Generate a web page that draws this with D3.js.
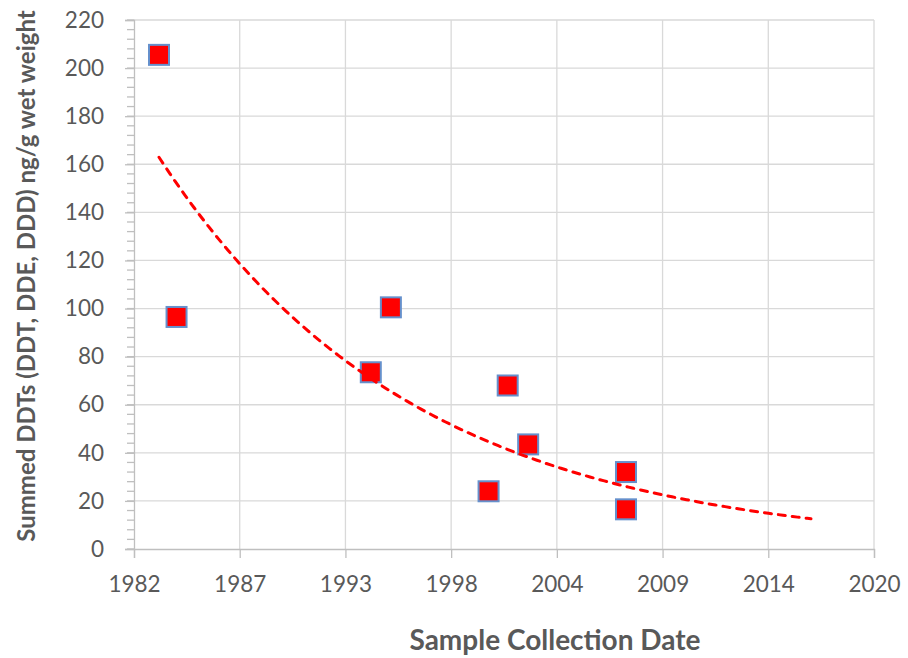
<!DOCTYPE html>
<html>
<head>
<meta charset="utf-8">
<script src="https://cdn.jsdelivr.net/npm/d3@7"></script>
<style>
  body { margin: 0; background: #fff; }
  svg { display: block; }
  text { font-family: Lato, "Open Sans", sans-serif; fill: #595959; }
</style>
</head>
<body>
<svg id="chart"></svg>
<script>
 // sample dates and summed DDT values (ng/g wet weight)
 let sample_dates = ["1983-06-06","1984-05-03","1994-05-26","1995-06-10","2000-07-01",
                     "2001-06-28","2002-07-20","2007-08-14","2007-08-14"]
 let ddt_values = [205.5, 96.5, 73.5, 100.5, 24, 68, 43.5, 32, 16.5]

 // excel date axis: 2000 day major unit
 let x_tick_dates = ["1982-02-18","1987-08-11","1993-01-31","1998-07-24",
                     "2004-01-14","2009-07-06","2014-12-27","2020-06-18"]
 let y_ticks = [0, 20, 40, 60, 80, 100, 120, 140, 160, 180, 200, 220]
 let y_minor_ticks = d3.range(0, 221, 4)

 let trend_forward_days = 3500

 width = 908
 height = 658
 let margin = {top: 20, right: 34, bottom: 109, left: 134}

 let parse = d3.utcParse("%Y-%m-%d")
 let points = sample_dates.map((d, i) => ({date: parse(d), value: ddt_values[i]}))
 let xticks = x_tick_dates.map(parse)

 var svg = d3.select("#chart").attr("width", width).attr("height", height)

 var x = d3.scaleUtc()
     .domain([xticks[0], xticks[xticks.length - 1]])
     .range([margin.left, width - margin.right])
 var y = d3.scaleLinear()
     .domain([0, 220])
     .range([height - margin.bottom, margin.top])

 //gridlines
 svg.append("g").selectAll("line")
     .data(y_ticks.slice(1))
     .enter().append("line")
         .attr("x1", margin.left).attr("x2", width - margin.right)
         .attr("y1", d => y(d)).attr("y2", d => y(d))
         .attr("stroke", "#d9d9d9").attr("stroke-width", 1.3)
 svg.append("g").selectAll("line")
     .data(xticks.slice(1))
     .enter().append("line")
         .attr("x1", d => x(d)).attr("x2", d => x(d))
         .attr("y1", margin.top).attr("y2", height - margin.bottom)
         .attr("stroke", "#d9d9d9").attr("stroke-width", 1.3)

 //y axis minor ticks
 svg.append("g").selectAll("line")
     .data(y_minor_ticks)
     .enter().append("line")
         .attr("x1", margin.left - 7).attr("x2", margin.left)
         .attr("y1", d => y(d)).attr("y2", d => y(d))
         .attr("stroke", "#bfbfbf").attr("stroke-width", 1.3)

 var yAxis = svg.append("g")
     .attr("transform", `translate(${margin.left},0)`)
     .call(d3.axisLeft(y).tickValues(y_ticks).tickSize(9).tickPadding(21))
 var xAxis = svg.append("g")
     .attr("transform", `translate(0,${height - margin.bottom})`)
     .call(d3.axisBottom(x).tickValues(xticks).tickSize(9).tickPadding(18)
         .tickFormat(d3.utcFormat("%Y")))

 for (const ax of [xAxis, yAxis]) {
     ax.select(".domain").attr("stroke", "#bfbfbf").attr("stroke-width", 1.3)
     ax.selectAll(".tick line").attr("stroke", "#bfbfbf").attr("stroke-width", 1.3)
     ax.selectAll(".tick text")
         .attr("font-family", "Lato, 'Open Sans', sans-serif")
         .attr("font-size", 22.5).attr("fill", "#595959")
 }

 //exponential trendline (least squares on ln y, like excel)
 let tx = points.map(p => +p.date), ly = points.map(p => Math.log(p.value))
 let mx = d3.mean(tx), my = d3.mean(ly)
 let slope = d3.sum(tx, (t, i) => (t - mx) * (ly[i] - my)) / d3.sum(tx, t => (t - mx) ** 2)
 let icpt = my - slope * mx
 let t0 = d3.min(points, p => p.date)
 let t1 = d3.timeDay.offset(d3.max(points, p => p.date), trend_forward_days)
 let trend = x.copy().domain([t0, t1]).ticks(120).concat([t1])
     .map(d => ({date: d, value: Math.exp(icpt + slope * (+d))}))
 trend.unshift({date: t0, value: Math.exp(icpt + slope * (+t0))})

 //markers
 svg.append("g")
     .selectAll("rect")
     .data(points)
     .enter().append("rect")
         .attr("x", d => x(d.date) - 10)
         .attr("y", d => y(d.value) - 10)
         .attr("width", 20).attr("height", 20)
         .attr("fill", "#ff0000")
         .attr("stroke", "#6590cc").attr("stroke-width", 2)

 svg.append("path")
     .datum(trend)
     .attr("fill", "none")
     .attr("stroke", "#ff0000")
     .attr("stroke-width", 3)
     .attr("stroke-dasharray", "7,7")
     .attr("stroke-linecap", "round")
     .attr("d", d3.line().x(d => x(d.date)).y(d => y(d.value)))

 //axis titles
 svg.append("text")
     .attr("x", 555)
     .attr("y", 650)
     .attr("text-anchor", "middle")
     .attr("font-size", 28).attr("font-weight", "bold")
     .text("Sample Collection Date")
 svg.append("text")
     .attr("transform", `translate(35,276) rotate(-90)`)
     .attr("text-anchor", "middle")
     .attr("font-size", 24).attr("font-weight", "bold")
     .text("Summed DDTs (DDT, DDE, DDD) ng/g wet weight")
</script>
</body>
</html>
